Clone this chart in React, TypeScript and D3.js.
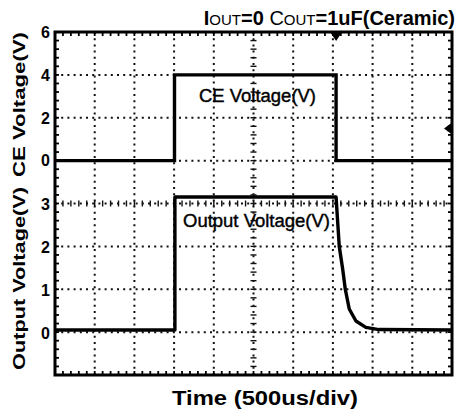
import React from "react";
import * as d3 from "d3";

const W = 456;
const H = 410;

// time axis: 10 divisions of 500us
const timeDomain = [0, 5000];
const divTimes = [500, 1000, 1500, 2000, 2500, 3000, 3500, 4000, 4500];
const divLevels = [1, 2, 3, 4, 5, 6, 7];

// CE voltage trace
const ceTimes = [0, 1505, 1505, 3540, 3540, 5000];
const ceValues = [0, 0, 4, 4, 0, 0];

// Output voltage trace
const outTimes = [0, 1510, 1510, 3540, 3580, 3623, 3656, 3706, 3790, 3915, 4080, 5000];
const outValues = [0.05, 0.05, 3.15, 3.15, 2.0, 1.47, 1.0, 0.54, 0.26, 0.11, 0.06, 0.05];

const ceTicks = [0, 2, 4, 6];
const outTicks = [0, 1, 2, 3];

const triggerTime = 3540;
const ceThreshold = 1.5;

export default function App() {
  const left = 55, right = 452, top = 32, bottom = 375;
  const x = d3.scaleLinear().domain(timeDomain).range([left, right]);
  const yDiv = d3.scaleLinear().domain([0, 8]).range([bottom, top]);
  const yCE = d3.scaleLinear().domain([-10, 6]).range([bottom, top]);
  const yOut = d3.scaleLinear().domain([-1, 7]).range([bottom, top]);

  const ceLine = d3
    .line<number>()
    .x((_, i) => x(ceTimes[i]))
    .y((d) => yCE(d));
  const outLine = d3
    .line<number>()
    .x((_, i) => x(outTimes[i]))
    .y((d) => yOut(d))
    .curve(d3.curveLinear);

  // minor ticks: 5 per division
  const xMinor = d3.range(0, 50 + 1).map((i) => x((i * 5000) / 50));
  const yMinor = d3.range(0, 40 + 1).map((i) => yDiv((i * 8) / 40));
  const tl = 4;
  const cx = x(2500);
  const cy = yDiv(4);

  const font = "'Liberation Sans', Arial, sans-serif";

  return (
    <svg
      width={W}
      height={H}
      style={{ position: "absolute", left: 0, top: 0, background: "#fff" }}
      fontFamily={font}
    >
      <rect x={0} y={0} width={W} height={H} fill="#fff" />
      {/* dotted grid */}
      <g stroke="#111" strokeWidth={2} strokeDasharray="2 4.2">
        {divTimes.map((t) => (
          <line key={"v" + t} x1={x(t)} x2={x(t)} y1={top} y2={bottom} />
        ))}
        {divLevels.map((d) => (
          <line key={"h" + d} x1={left} x2={right} y1={yDiv(d)} y2={yDiv(d)} />
        ))}
      </g>
      {/* center line ticks */}
      <g stroke="#111" strokeWidth={1.4}>
        {xMinor.map((px, i) => (
          <line key={"cxm" + i} x1={px} x2={px} y1={cy - 3} y2={cy + 3} />
        ))}
        {yMinor.map((py, i) => (
          <line key={"cym" + i} x1={cx - 3} x2={cx + 3} y1={py} y2={py} />
        ))}
      </g>
      {/* frame ticks */}
      <g stroke="#000" strokeWidth={1.8}>
        {xMinor.map((px, i) => (
          <g key={"fx" + i}>
            <line x1={px} x2={px} y1={top} y2={top + tl} />
            <line x1={px} x2={px} y1={bottom} y2={bottom - tl} />
          </g>
        ))}
        {yMinor.map((py, i) => (
          <g key={"fy" + i}>
            <line x1={left} x2={left + tl} y1={py} y2={py} />
            <line x1={right} x2={right - tl} y1={py} y2={py} />
          </g>
        ))}
      </g>
      {/* frame */}
      <rect x={left} y={top} width={right - left} height={bottom - top} fill="none" stroke="#000" strokeWidth={3} />

      {/* traces */}
      <path d={ceLine(ceValues) || ""} fill="none" stroke="#000" strokeWidth={3.4} strokeLinejoin="miter" />
      <path d={outLine(outValues) || ""} fill="none" stroke="#000" strokeWidth={3.4} strokeLinejoin="round" />

      {/* markers */}
      <path
        d={`M${x(triggerTime) - 6},${top} L${x(triggerTime) + 6},${top} L${x(triggerTime)},${top + 9} Z`}
        fill="#000"
      />
      <path
        d={`M${right},${yCE(ceThreshold) - 6} L${right},${yCE(ceThreshold) + 6} L${right - 8},${yCE(ceThreshold)} Z`}
        fill="#000"
      />

      {/* tick labels */}
      <g fontWeight="bold" fontSize={16} textAnchor="end" fill="#000">
        {ceTicks.map((v) => (
          <text key={"ce" + v} x={50} y={yCE(v)} dy="0.36em">
            {v}
          </text>
        ))}
        {outTicks.map((v) => (
          <text key={"out" + v} x={50} y={yOut(v)} dy="0.4em">
            {v}
          </text>
        ))}
      </g>

      {/* axis titles */}
      <g fontWeight="bold" fontSize={17} fill="#000">
        <text
          transform={`translate(25,${(32 + 177) / 2}) rotate(-90)`}
          textAnchor="middle"
          textLength={145}
          lengthAdjust="spacingAndGlyphs"
        >
          CE Voltage(V)
        </text>
        <text
          transform={`translate(25,${(187 + 370) / 2}) rotate(-90)`}
          textAnchor="middle"
          textLength={183}
          lengthAdjust="spacingAndGlyphs"
        >
          Output Voltage(V)
        </text>
      </g>
      <text
        x={(172 + 358) / 2}
        y={405}
        textAnchor="middle"
        fontWeight="bold"
        fontSize={20}
        textLength={186}
        lengthAdjust="spacingAndGlyphs"
      >
        Time (500us/div)
      </text>

      {/* in-plot labels */}
      <g fontSize={18} fill="#000" stroke="#000" strokeWidth={0.4}>
        <text x={199} y={102} textLength={117} lengthAdjust="spacingAndGlyphs">
          CE Voltage(V)
        </text>
        <text x={183} y={227} textLength={147} lengthAdjust="spacingAndGlyphs">
          Output Voltage(V)
        </text>
      </g>

      {/* title */}
      <text x={455} y={25} textAnchor="end" fontSize={20} fill="#000">
        <tspan fontWeight="bold">I</tspan>
        <tspan fontSize={15}>OUT</tspan>
        <tspan fontWeight="bold">=0 </tspan>
        <tspan>C</tspan>
        <tspan fontSize={15}>OUT</tspan>
        <tspan fontWeight="bold">=1uF(Ceramic)</tspan>
      </text>
    </svg>
  );
}
